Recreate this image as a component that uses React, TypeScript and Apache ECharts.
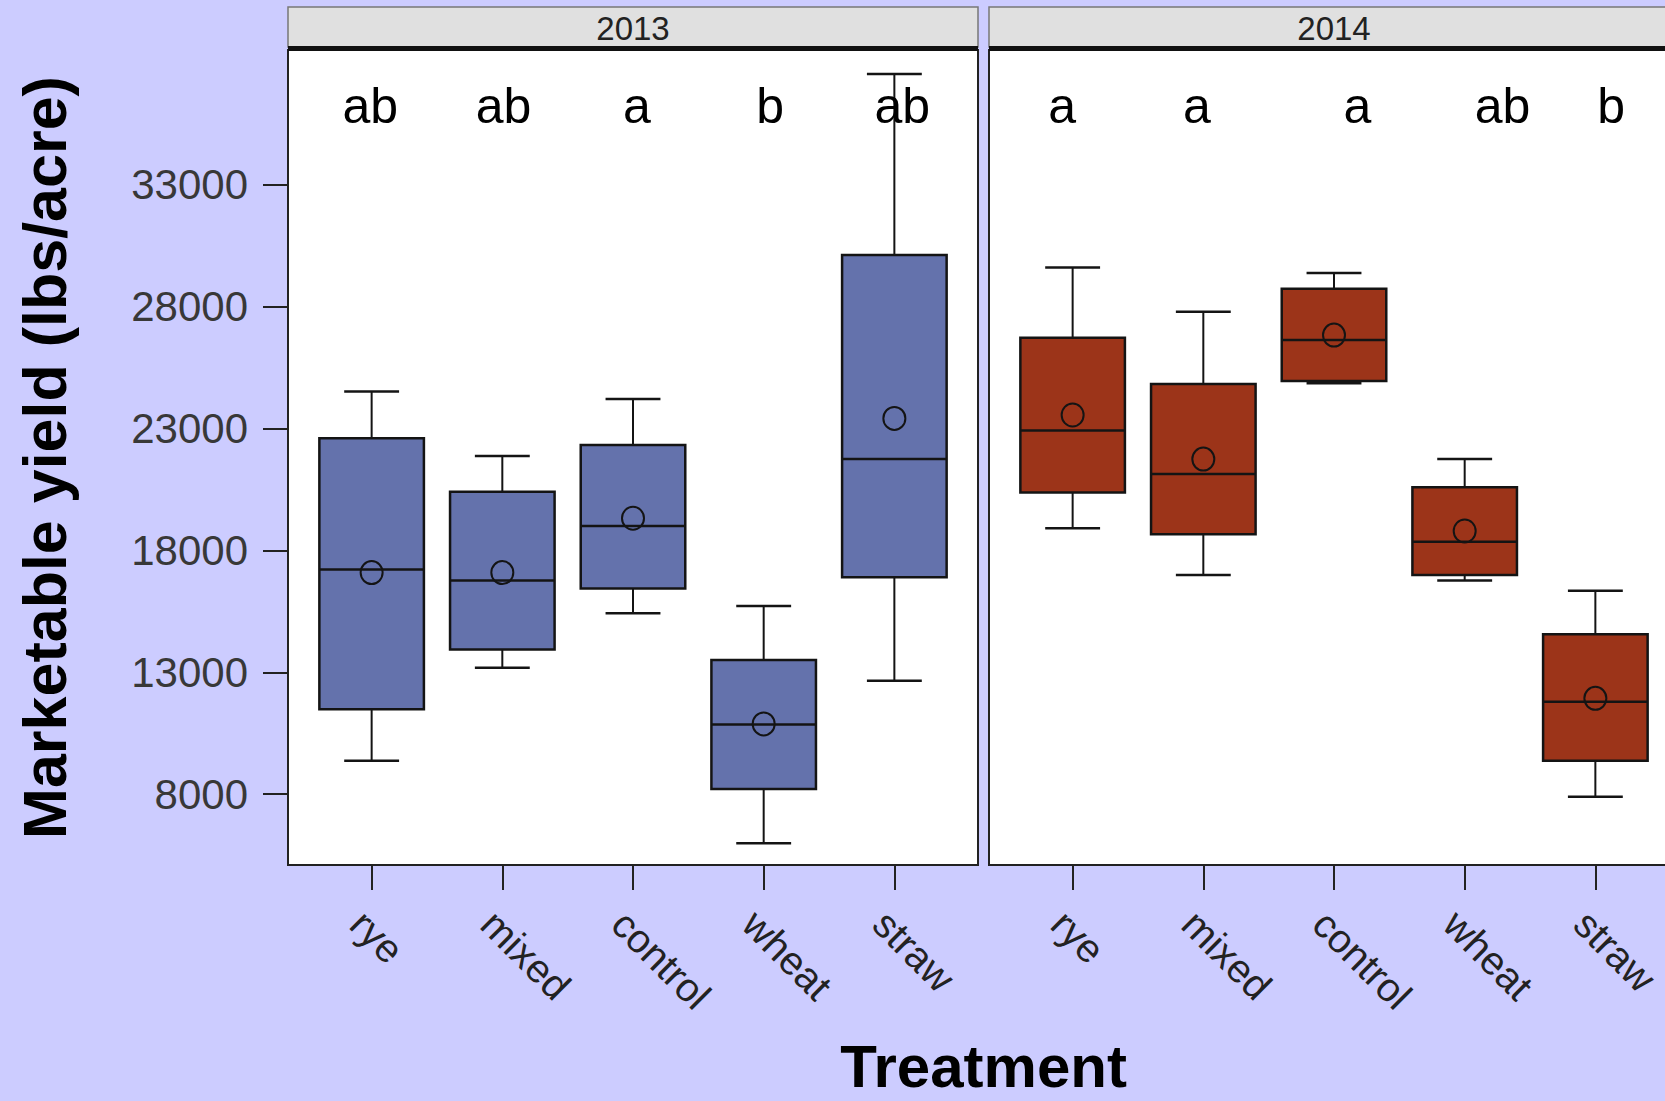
import React, { useEffect, useRef } from "react";
import * as echarts from "echarts";

// ---------- data ----------
const categories = ["rye", "mixed", "control", "wheat", "straw"];
const years = ["2013", "2014"];
const yTicks = [8000, 13000, 18000, 23000, 28000, 33000];

// each row: [low whisker, Q1, median, Q3, high whisker]
const box2013 = [
  [9370, 11480, 17220, 22600, 24520],
  [13190, 13930, 16770, 20410, 21880],
  [15420, 16440, 19000, 22330, 24220],
  [5980, 8210, 10860, 13500, 15720],
  [12650, 16900, 21750, 30130, 37560],
];
const mean2013 = [17090, 17090, 19320, 10880, 23420];

const box2014 = [
  [18910, 20380, 22920, 26730, 29610],
  [16990, 18670, 21140, 24830, 27800],
  [24860, 24950, 26640, 28740, 29390],
  [16770, 16990, 18360, 20590, 21750],
  [7890, 9370, 11790, 14560, 16350],
];
const mean2014 = [23560, 21750, 26840, 18800, 11930];

const letters2013 = ["ab", "ab", "a", "b", "ab"];
const letters2014 = ["a", "a", "a", "ab", "b"];
// horizontal nudge of each letter relative to its category (category units)
const letterShift2013 = [-0.01, 0.01, 0.03, 0.05, 0.06];
const letterShift2014 = [-0.08, -0.05, 0.18, 0.29, 0.12];

// ---------- layout / style ----------
const FONT = '"Liberation Sans", Arial, Helvetica, sans-serif';
const Y_MIN = 5090;
const Y_MAX = 38540;
const X_MIN = -0.64;
const X_MAX = 4.64;
const BOX_W = 0.8;
const CAP_W = 0.42;
const PANEL_W = 690;
const PANEL_TOP = 50;
const PANEL_H = 815;
const PANEL_LEFTS = [288, 989];
const COLORS = ["#6472AC", "#9C3419"];
const INK = "#141414";

const makeBoxRenderer = (fill: string) => (params: any, api: any) => {
  const x = api.value(0);
  const pLow = api.coord([x, api.value(1)]);
  const cx = pLow[0];
  const yLow = pLow[1];
  const yQ1 = api.coord([x, api.value(2)])[1];
  const yMed = api.coord([x, api.value(3)])[1];
  const yQ3 = api.coord([x, api.value(4)])[1];
  const yHigh = api.coord([x, api.value(5)])[1];
  const yMean = api.coord([x, api.value(6)])[1];
  const bw = api.size([BOX_W, 0])[0];
  const cw = api.size([CAP_W, 0])[0];
  const line = (x1: number, y1: number, x2: number, y2: number, w = 2) => ({
    type: "line",
    shape: { x1, y1, x2, y2 },
    style: { stroke: INK, lineWidth: w },
  });
  return {
    type: "group",
    children: [
      line(cx, yHigh, cx, yQ3),
      line(cx, yQ1, cx, yLow),
      line(cx - cw / 2, yHigh, cx + cw / 2, yHigh, 2.5),
      line(cx - cw / 2, yLow, cx + cw / 2, yLow, 2.5),
      {
        type: "rect",
        shape: { x: cx - bw / 2, y: yQ3, width: bw, height: yQ1 - yQ3 },
        style: { fill, stroke: INK, lineWidth: 2.5 },
      },
      line(cx - bw / 2, yMed, cx + bw / 2, yMed, 2.5),
      {
        type: "ellipse",
        shape: { cx, cy: yMean, rx: 11, ry: 11.5 },
        style: { fill: "none", stroke: INK, lineWidth: 2 },
      },
    ],
  };
};

const makeLetterRenderer = (letters: string[]) => (params: any, api: any) => {
  const p = api.coord([api.value(0), api.value(1)]);
  return {
    type: "text",
    x: p[0],
    y: params.coordSys.y + 56,
    style: {
      text: letters[params.dataIndex],
      fill: "#000",
      font: `50px ${FONT}`,
      align: "center",
      verticalAlign: "middle",
      textAlign: "center",
      textVerticalAlign: "middle",
    },
  };
};

export default function App() {
  const ref = useRef<HTMLDivElement>(null);

  useEffect(() => {
    if (!ref.current) return;
    const chart = echarts.init(ref.current, undefined, { renderer: "svg" });
    const tickPos = categories.map((_, i) => i);
    const boxes = [box2013, box2014];
    const means = [mean2013, mean2014];
    const letters = [letters2013, letters2014];
    const shifts = [letterShift2013, letterShift2014];

    const grids = PANEL_LEFTS.map((left) => ({
      left,
      top: PANEL_TOP,
      width: PANEL_W,
      height: PANEL_H,
      show: true,
      backgroundColor: "#ffffff",
      borderColor: "#222",
      borderWidth: 2,
      containLabel: false,
      outerBoundsMode: "none",
    }));

    const xAxes = [0, 1].map((g) => ({
      type: "value",
      gridIndex: g,
      min: X_MIN,
      max: X_MAX,
      axisLine: { show: true, onZero: false, lineStyle: { color: "#222", width: 2 } },
      axisTick: {
        show: true,
        length: 25,
        customValues: tickPos,
        lineStyle: { color: "#222", width: 2 },
      },
      axisLabel: {
        customValues: tickPos,
        formatter: (v: number) => categories[Math.round(v)],
        rotate: -45,
        align: "left",
        verticalAlign: "top",
        margin: 38,
        fontSize: 40,
        fontFamily: FONT,
        color: "#222",
      },
      splitLine: { show: false },
    }));

    const yAxes = [
      {
        type: "value",
        gridIndex: 0,
        min: Y_MIN,
        max: Y_MAX,
        name: "Marketable yield (lbs/acre)",
        nameLocation: "middle",
        nameGap: 213,
        nameTextStyle: {
          fontSize: 61,
          fontWeight: "bold",
          color: "#000",
          fontFamily: FONT,
        },
        axisLine: { show: true, onZero: false, lineStyle: { color: "#222", width: 2 } },
        axisTick: {
          show: true,
          length: 25,
          customValues: yTicks,
          lineStyle: { color: "#222", width: 2 },
        },
        axisLabel: {
          customValues: yTicks,
          formatter: (v: number) => String(v),
          margin: 40,
          fontSize: 42,
          fontFamily: FONT,
          color: "#383838",
        },
        splitLine: { show: false },
      },
      {
        type: "value",
        gridIndex: 1,
        min: Y_MIN,
        max: Y_MAX,
        axisLine: { show: true, onZero: false, lineStyle: { color: "#222", width: 2 } },
        axisTick: { show: false },
        axisLabel: { show: false },
        splitLine: { show: false },
      },
    ];

    const series: any[] = [];
    [0, 1].forEach((g) => {
      series.push({
        type: "custom",
        name: `box ${years[g]}`,
        xAxisIndex: g,
        yAxisIndex: g,
        renderItem: makeBoxRenderer(COLORS[g]),
        encode: { x: 0, y: [1, 2, 3, 4, 5, 6] },
        data: categories.map((_, i) => [i, ...boxes[g][i], means[g][i]]),
        silent: true,
      });
      series.push({
        type: "custom",
        name: `letters ${years[g]}`,
        xAxisIndex: g,
        yAxisIndex: g,
        renderItem: makeLetterRenderer(letters[g]),
        encode: { x: 0, y: 1 },
        data: categories.map((_, i) => [i + shifts[g][i], Y_MAX]),
        silent: true,
      });
    });

    const graphics: any[] = [];
    PANEL_LEFTS.forEach((left, g) => {
      graphics.push({
        type: "rect",
        shape: { x: left, y: 7, width: PANEL_W, height: 40 },
        style: { fill: "#e0e0e0", stroke: "#777", lineWidth: 1.5 },
        z: 50,
      });
      graphics.push({
        type: "rect",
        shape: { x: left, y: 46, width: PANEL_W, height: 5 },
        style: { fill: "#111" },
        z: 100,
      });
      graphics.push({
        type: "text",
        x: left + PANEL_W / 2,
        y: 28,
        style: {
          text: years[g],
          font: `33px ${FONT}`,
          fill: "#222",
          align: "center",
          verticalAlign: "middle",
          textAlign: "center",
          textVerticalAlign: "middle",
        },
        z: 101,
      });
    });
    graphics.push({
      type: "text",
      x: (PANEL_LEFTS[0] + PANEL_LEFTS[1] + PANEL_W) / 2,
      y: 1066,
      style: {
        text: "Treatment",
        font: `bold 60px ${FONT}`,
        lineHeight: 44,
        fill: "#000",
        align: "center",
        verticalAlign: "middle",
        textAlign: "center",
        textVerticalAlign: "middle",
      },
      z: 101,
    });

    chart.setOption({
      animation: false,
      backgroundColor: "#CCCCFF",
      grid: grids,
      xAxis: xAxes,
      yAxis: yAxes,
      series,
      graphic: { elements: graphics },
    });

    return () => chart.dispose();
  }, []);

  return (
    <div
      ref={ref}
      style={{ position: "fixed", left: 0, top: 0, width: 1680, height: 1101 }}
    />
  );
}
